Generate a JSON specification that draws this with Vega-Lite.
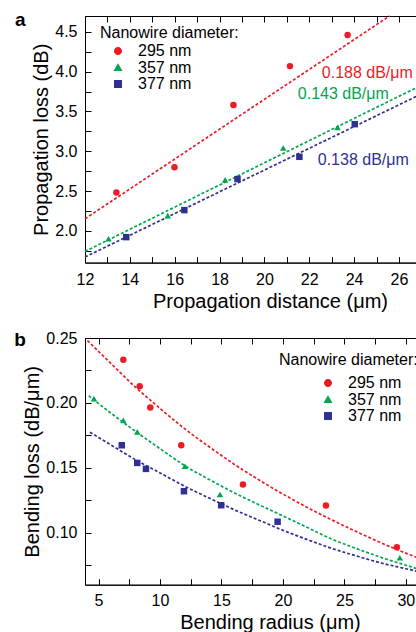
{
  "$schema": "https://vega.github.io/schema/vega-lite/v6.json",
  "padding": {"left": 13, "top": 10, "right": 0, "bottom": 0},
  "bounds": "flush",
  "spacing": 75,
  "datasets": {
    "lossPts": [
      {"diameter": "295 nm", "distance": 13.40, "loss": 2.48},
      {"diameter": "295 nm", "distance": 15.99, "loss": 2.80},
      {"diameter": "295 nm", "distance": 18.62, "loss": 3.58},
      {"diameter": "295 nm", "distance": 21.14, "loss": 4.07},
      {"diameter": "295 nm", "distance": 23.71, "loss": 4.46},
      {"diameter": "357 nm", "distance": 13.05, "loss": 1.90},
      {"diameter": "357 nm", "distance": 15.69, "loss": 2.19},
      {"diameter": "357 nm", "distance": 18.25, "loss": 2.64},
      {"diameter": "357 nm", "distance": 20.84, "loss": 3.04},
      {"diameter": "357 nm", "distance": 23.26, "loss": 3.30},
      {"diameter": "377 nm", "distance": 13.84, "loss": 1.92},
      {"diameter": "377 nm", "distance": 16.43, "loss": 2.26},
      {"diameter": "377 nm", "distance": 18.80, "loss": 2.65},
      {"diameter": "377 nm", "distance": 21.56, "loss": 2.93},
      {"diameter": "377 nm", "distance": 24.03, "loss": 3.34}
    ],
    "lossFit": [
      {"diameter": "295 nm", "distance": 12, "loss": 2.15},
      {"diameter": "295 nm", "distance": 25.58, "loss": 4.70},
      {"diameter": "357 nm", "distance": 12, "loss": 1.74},
      {"diameter": "357 nm", "distance": 27.0, "loss": 3.83},
      {"diameter": "377 nm", "distance": 12, "loss": 1.67},
      {"diameter": "377 nm", "distance": 27.0, "loss": 3.72}
    ],
    "lossLabels": [
      {"diameter": "295 nm", "distance": 22.56, "loss": 3.926, "label": "0.188 dB/μm"},
      {"diameter": "357 nm", "distance": 21.49, "loss": 3.662, "label": "0.143 dB/μm"},
      {"diameter": "377 nm", "distance": 22.38, "loss": 2.823, "label": "0.138 dB/μm"}
    ],
    "panelA": [{"distance": 8.88, "loss": 4.571, "label": "a"}],
    "panelB": [{"radius": -1.85, "bloss": 0.2435, "label": "b"}],
    "bendPts": [
      {"diameter": "295 nm", "radius": 7.02, "bloss": 0.2333},
      {"diameter": "295 nm", "radius": 8.35, "bloss": 0.2128},
      {"diameter": "295 nm", "radius": 9.21, "bloss": 0.1964},
      {"diameter": "295 nm", "radius": 11.73, "bloss": 0.1674},
      {"diameter": "295 nm", "radius": 16.75, "bloss": 0.1372},
      {"diameter": "295 nm", "radius": 23.5, "bloss": 0.121},
      {"diameter": "295 nm", "radius": 29.27, "bloss": 0.0889},
      {"diameter": "357 nm", "radius": 4.63, "bloss": 0.2033},
      {"diameter": "357 nm", "radius": 7.02, "bloss": 0.1866},
      {"diameter": "357 nm", "radius": 8.15, "bloss": 0.1777},
      {"diameter": "357 nm", "radius": 12.03, "bloss": 0.1512},
      {"diameter": "357 nm", "radius": 14.88, "bloss": 0.1295},
      {"diameter": "357 nm", "radius": 29.51, "bloss": 0.0808},
      {"diameter": "377 nm", "radius": 6.89, "bloss": 0.1674},
      {"diameter": "377 nm", "radius": 8.15, "bloss": 0.1538},
      {"diameter": "377 nm", "radius": 8.86, "bloss": 0.1492},
      {"diameter": "377 nm", "radius": 11.95, "bloss": 0.132},
      {"diameter": "377 nm", "radius": 14.98, "bloss": 0.1212},
      {"diameter": "377 nm", "radius": 19.57, "bloss": 0.1085}
    ],
    "bendFit": [
      {"diameter": "295 nm", "radius": 4.1, "bloss": 0.2480},
      {"diameter": "295 nm", "radius": 6, "bloss": 0.2305},
      {"diameter": "295 nm", "radius": 8, "bloss": 0.2122},
      {"diameter": "295 nm", "radius": 10, "bloss": 0.1958},
      {"diameter": "295 nm", "radius": 12, "bloss": 0.1802},
      {"diameter": "295 nm", "radius": 14, "bloss": 0.1662},
      {"diameter": "295 nm", "radius": 16, "bloss": 0.1530},
      {"diameter": "295 nm", "radius": 18, "bloss": 0.1410},
      {"diameter": "295 nm", "radius": 20, "bloss": 0.1298},
      {"diameter": "295 nm", "radius": 22, "bloss": 0.1194},
      {"diameter": "295 nm", "radius": 24, "bloss": 0.1098},
      {"diameter": "295 nm", "radius": 26, "bloss": 0.1008},
      {"diameter": "295 nm", "radius": 28, "bloss": 0.0922},
      {"diameter": "295 nm", "radius": 30, "bloss": 0.0843},
      {"diameter": "295 nm", "radius": 32, "bloss": 0.0770},
      {"diameter": "357 nm", "radius": 4.2, "bloss": 0.2055},
      {"diameter": "357 nm", "radius": 6, "bloss": 0.1922},
      {"diameter": "357 nm", "radius": 8, "bloss": 0.1782},
      {"diameter": "357 nm", "radius": 10, "bloss": 0.1648},
      {"diameter": "357 nm", "radius": 12, "bloss": 0.1518},
      {"diameter": "357 nm", "radius": 14, "bloss": 0.1410},
      {"diameter": "357 nm", "radius": 16, "bloss": 0.1310},
      {"diameter": "357 nm", "radius": 18, "bloss": 0.1218},
      {"diameter": "357 nm", "radius": 20, "bloss": 0.1130},
      {"diameter": "357 nm", "radius": 22, "bloss": 0.1040},
      {"diameter": "357 nm", "radius": 24, "bloss": 0.0950},
      {"diameter": "357 nm", "radius": 26, "bloss": 0.0878},
      {"diameter": "357 nm", "radius": 28, "bloss": 0.0810},
      {"diameter": "357 nm", "radius": 30, "bloss": 0.0750},
      {"diameter": "357 nm", "radius": 32, "bloss": 0.0694},
      {"diameter": "377 nm", "radius": 4.3, "bloss": 0.1774},
      {"diameter": "377 nm", "radius": 6, "bloss": 0.1677},
      {"diameter": "377 nm", "radius": 8, "bloss": 0.1563},
      {"diameter": "377 nm", "radius": 10, "bloss": 0.1461},
      {"diameter": "377 nm", "radius": 12, "bloss": 0.1359},
      {"diameter": "377 nm", "radius": 14, "bloss": 0.1267},
      {"diameter": "377 nm", "radius": 16, "bloss": 0.1179},
      {"diameter": "377 nm", "radius": 18, "bloss": 0.1099},
      {"diameter": "377 nm", "radius": 20, "bloss": 0.1019},
      {"diameter": "377 nm", "radius": 22, "bloss": 0.0947},
      {"diameter": "377 nm", "radius": 24, "bloss": 0.0879},
      {"diameter": "377 nm", "radius": 26, "bloss": 0.0821},
      {"diameter": "377 nm", "radius": 28, "bloss": 0.0767},
      {"diameter": "377 nm", "radius": 30, "bloss": 0.0723},
      {"diameter": "377 nm", "radius": 32, "bloss": 0.0679}
    ]
  },
  "vconcat": [
    {
      "width": 370,
      "height": 246.6,
      "resolve": {"axis": {"x": "independent", "y": "independent"}},
      "layer": [
        {
          "data": {"name": "lossFit"},
          "mark": {"type": "line", "strokeDash": [3, 2], "strokeWidth": 1.7},
          "encoding": {
            "x": {"field": "distance", "type": "quantitative", "scale": {"domain": [12, 28.5], "nice": false, "zero": false},
              "axis": {"orient": "top", "labels": false, "title": null, "domain": false, "values": [12,13,14,15,16,17,18,19,20,21,22,23,24,25,26,27,28]}},
            "y": {"field": "loss", "type": "quantitative", "scale": {"domain": [1.6, 4.7], "nice": false, "zero": false}, "axis": null},
            "color": {"field": "diameter", "type": "nominal", "scale": {"domain": ["295 nm", "357 nm", "377 nm"], "range": ["#ed1c24", "#00a651", "#2e3192"]}},
            "detail": {"field": "diameter"}
          }
        },
        {
          "data": {"name": "lossPts"},
          "mark": {"type": "point", "filled": true, "size": 42, "opacity": 1},
          "encoding": {
            "x": {"field": "distance", "type": "quantitative", "scale": {"domain": [12, 28.5], "nice": false, "zero": false},
              "axis": {"orient": "bottom", "title": "Propagation distance (μm)", "values": [12,13,14,15,16,17,18,19,20,21,22,23,24,25,26,27,28],
                "labelExpr": "datum.value % 2 == 0 ? datum.label : ''", "titlePadding": 4, "labelPadding": 15}},
            "y": {"field": "loss", "type": "quantitative", "scale": {"domain": [1.6, 4.7], "nice": false, "zero": false},
              "axis": {"orient": "left", "title": "Propagation loss (dB)", "values": [1.75,2,2.25,2.5,2.75,3,3.25,3.5,3.75,4,4.25,4.5], "format": ".1f",
                "labelExpr": "(datum.value * 2) % 1 == 0 ? datum.label : ''", "titlePadding": 3}},
            "color": {"field": "diameter", "type": "nominal", "scale": {"domain": ["295 nm", "357 nm", "377 nm"], "range": ["#ed1c24", "#00a651", "#2e3192"]},
              "legend": {"title": "Nanowire diameter:", "orient": "none", "legendX": 15, "legendY": 9, "symbolOffset": 10, "labelOffset": 12, "titlePadding": 2, "rowPadding": 0.5}},
            "shape": {"field": "diameter", "type": "nominal", "scale": {"domain": ["295 nm", "357 nm", "377 nm"], "range": ["circle", "triangle-up", "square"]},
              "legend": {"title": "Nanowire diameter:", "orient": "none", "legendX": 15, "legendY": 9, "symbolOffset": 10, "labelOffset": 12, "titlePadding": 2, "rowPadding": 0.5}}
          }
        },
        {
          "data": {"name": "lossLabels"},
          "mark": {"type": "text", "align": "left", "baseline": "alphabetic", "fontSize": 16},
          "encoding": {
            "x": {"field": "distance", "type": "quantitative", "scale": {"domain": [12, 28.5], "nice": false, "zero": false}, "axis": null},
            "y": {"field": "loss", "type": "quantitative", "scale": {"domain": [1.6, 4.7], "nice": false, "zero": false}, "axis": null},
            "text": {"field": "label"},
            "color": {"field": "diameter", "type": "nominal", "scale": {"domain": ["295 nm", "357 nm", "377 nm"], "range": ["#ed1c24", "#00a651", "#2e3192"]}}
          }
        },
        {
          "data": {"name": "panelA"},
          "mark": {"type": "text", "align": "left", "baseline": "alphabetic", "fontSize": 19, "fontWeight": "bold", "color": "black"},
          "encoding": {
            "x": {"field": "distance", "type": "quantitative", "axis": null},
            "y": {"field": "loss", "type": "quantitative", "axis": null},
            "text": {"field": "label"}
          }
        }
      ]
    },
    {
      "width": 370,
      "height": 246.7,
      "resolve": {"axis": {"x": "independent", "y": "independent"}},
      "layer": [
        {
          "data": {"name": "bendFit"},
          "mark": {"type": "line", "strokeDash": [3, 2], "strokeWidth": 1.7, "interpolate": "monotone"},
          "encoding": {
            "x": {"field": "radius", "type": "quantitative", "scale": {"domain": [3.9, 34], "nice": false, "zero": false},
              "axis": {"orient": "top", "labels": false, "title": null, "domain": false, "values": [5,7.5,10,12.5,15,17.5,20,22.5,25,27.5,30,32.5]}},
            "y": {"field": "bloss", "type": "quantitative", "scale": {"domain": [0.06, 0.25], "nice": false, "zero": false}, "axis": null},
            "color": {"field": "diameter", "type": "nominal", "scale": {"domain": ["295 nm", "357 nm", "377 nm"], "range": ["#ed1c24", "#00a651", "#2e3192"]}},
            "detail": {"field": "diameter"}
          }
        },
        {
          "data": {"name": "bendPts"},
          "mark": {"type": "point", "filled": true, "size": 42, "opacity": 1},
          "encoding": {
            "x": {"field": "radius", "type": "quantitative", "scale": {"domain": [3.9, 34], "nice": false, "zero": false},
              "axis": {"orient": "bottom", "title": "Bending radius (μm)", "values": [5,7.5,10,12.5,15,17.5,20,22.5,25,27.5,30,32.5],
                "labelExpr": "datum.value % 5 == 0 ? datum.label : ''", "titlePadding": 4}},
            "y": {"field": "bloss", "type": "quantitative", "scale": {"domain": [0.06, 0.25], "nice": false, "zero": false},
              "axis": {"orient": "left", "title": "Bending loss (dB/μm)", "values": [0.075,0.1,0.125,0.15,0.175,0.2,0.225,0.25], "format": ".2f",
                "labelExpr": "round(datum.value * 1000) % 50 == 0 ? datum.label : ''", "titlePadding": 3}},
            "color": {"field": "diameter", "type": "nominal", "scale": {"domain": ["295 nm", "357 nm", "377 nm"], "range": ["#ed1c24", "#00a651", "#2e3192"]},
              "legend": {"title": "Nanowire diameter:", "orient": "none", "legendX": 194, "legendY": 14, "symbolOffset": 41, "labelOffset": 12, "titlePadding": 7, "rowPadding": 0.5}},
            "shape": {"field": "diameter", "type": "nominal", "scale": {"domain": ["295 nm", "357 nm", "377 nm"], "range": ["circle", "triangle-up", "square"]},
              "legend": {"title": "Nanowire diameter:", "orient": "none", "legendX": 194, "legendY": 14, "symbolOffset": 41, "labelOffset": 12, "titlePadding": 7, "rowPadding": 0.5}}
          }
        },
        {
          "data": {"name": "panelB"},
          "mark": {"type": "text", "align": "left", "baseline": "alphabetic", "fontSize": 19, "fontWeight": "bold", "color": "black"},
          "encoding": {
            "x": {"field": "radius", "type": "quantitative", "axis": null},
            "y": {"field": "bloss", "type": "quantitative", "axis": null},
            "text": {"field": "label"}
          }
        }
      ]
    }
  ],
  "resolve": {
    "scale": {"x": "independent", "y": "independent", "color": "independent", "shape": "independent"},
    "legend": {"color": "independent", "shape": "independent"}
  },
  "config": {
    "font": "Liberation Sans",
    "background": "white",
    "view": {"stroke": "black", "strokeWidth": 1},
    "axis": {
      "domainColor": "black", "tickColor": "black", "labelColor": "black", "titleColor": "black",
      "labelFontSize": 16, "titleFontSize": 20, "titleFontWeight": "normal",
      "tickSize": -6, "labelPadding": 14, "grid": false, "labelFlush": false, "labelOverlap": false,
      "labelFont": "Liberation Sans", "titleFont": "Liberation Sans"
    },
    "legend": {
      "titleFontSize": 16, "titleFontWeight": "normal", "titleColor": "black", "titleLimit": 400,
      "labelFontSize": 16, "labelColor": "black", "symbolSize": 42, "padding": 0,
      "titleFont": "Liberation Sans", "labelFont": "Liberation Sans"
    }
  }
}
